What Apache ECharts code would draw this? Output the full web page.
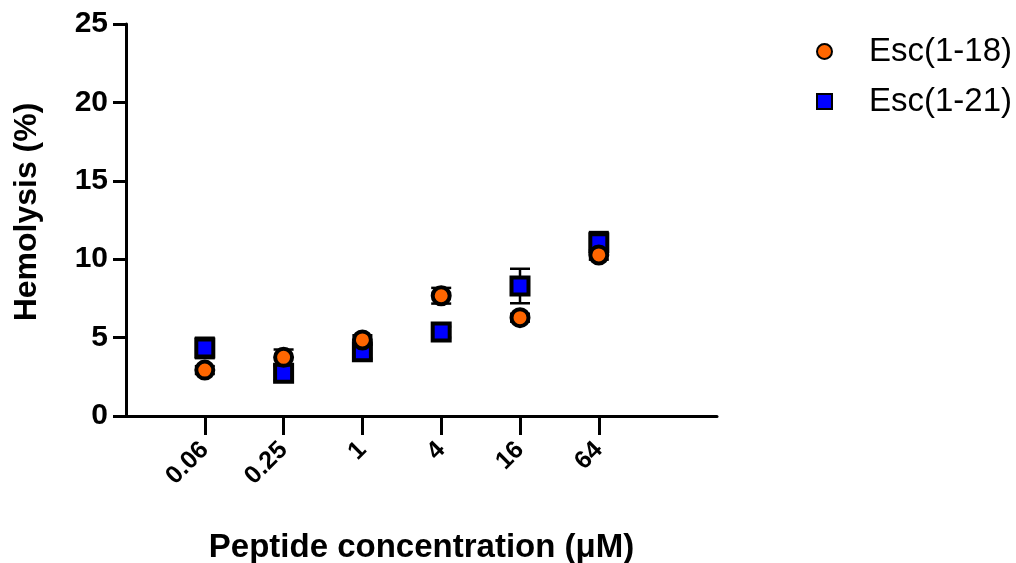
<!DOCTYPE html>
<html><head><meta charset="utf-8">
<script src="https://cdn.jsdelivr.net/npm/echarts@6/dist/echarts.min.js"></script>
<style>html,body{margin:0;padding:0;background:#fff}#c{width:1016px;height:563px}</style>
</head><body><div id="c"></div>
<script>
const categories = ['0.06', '0.25', '1', '4', '16', '64'];
const esc118 = [2.93, 3.74, 4.85, 7.67, 6.27, 10.27];
const esc118Err = [0.25, 0.5, 0.3, 0.5, 0.25, 0.3];
const esc121 = [4.34, 2.72, 4.1, 5.35, 8.29, 11.05];
const esc121Err = [0.65, 0.45, 0.45, 0.35, 1.1, 0.68];
const yTicks = [0, 5, 10, 15, 20, 25];

const pos = categories.map((c, i) => i + 1);
const FONT = 'Liberation Sans, Arial, sans-serif';

function errData(vals, errs) {
  return vals.map((v, i) => [pos[i], v - errs[i], v + errs[i]]);
}
function errRender(params, api) {
  const x = api.value(0);
  const lo = api.coord([x, api.value(1)]);
  const hi = api.coord([x, api.value(2)]);
  const w = 10;
  const st = { stroke: '#000', lineWidth: 2.5 };
  return { type: 'group', children: [
    { type: 'line', shape: { x1: lo[0], y1: lo[1], x2: hi[0], y2: hi[1] }, style: st },
    { type: 'line', shape: { x1: lo[0] - w, y1: lo[1], x2: lo[0] + w, y2: lo[1] }, style: st },
    { type: 'line', shape: { x1: hi[0] - w, y1: hi[1], x2: hi[0] + w, y2: hi[1] }, style: st }
  ]};
}

const chart = echarts.init(document.getElementById('c'), null, { renderer: 'canvas' });
chart.setOption({
  animation: false,
  backgroundColor: '#fff',
  grid: { left: 126, right: 299, top: 24, bottom: 147, containLabel: false, outerBoundsMode: 'none' },
  legend: {
    orient: 'vertical', left: 811, top: 30, itemGap: 17, itemWidth: 15, itemHeight: 15,
    textStyle: { fontFamily: FONT, fontSize: 33, lineHeight: 33, color: '#000', padding: [0, 0, 0, 32] },
    data: ['Esc(1-18)', 'Esc(1-21)']
  },
  xAxis: {
    type: 'value', min: 0, max: 7.5, interval: 1,
    name: 'Peptide concentration (μM)', nameLocation: 'middle', nameGap: 115,
    nameTextStyle: { fontFamily: FONT, fontSize: 33, fontWeight: 'bold', color: '#000' },
    axisLine: { show: true, lineStyle: { color: '#000', width: 3 } },
    axisTick: { show: true, length: 19, lineStyle: { color: '#000', width: 3 }, customValues: pos },
    axisLabel: {
      customValues: pos, rotate: 45, margin: 30,
      fontFamily: FONT, fontSize: 25, fontWeight: 'bold', color: '#000',
      formatter: v => categories[Math.round(v) - 1] || ''
    },
    splitLine: { show: false }
  },
  yAxis: {
    type: 'value', min: 0, max: 25, interval: 5,
    name: 'Hemolysis (%)', nameLocation: 'middle', nameGap: 83, nameRotate: 90,
    nameTextStyle: { fontFamily: FONT, fontSize: 32, fontWeight: 'bold', color: '#000', padding: [0, 0, 0, 16] },
    axisLine: { show: true, lineStyle: { color: '#000', width: 3 } },
    axisTick: { show: true, length: 13, lineStyle: { color: '#000', width: 3 } },
    axisLabel: { margin: 18, fontFamily: FONT, fontSize: 30, fontWeight: 'bold', color: '#000',
      formatter: v => yTicks.includes(v) ? String(v) : '' },
    splitLine: { show: false }
  },
  series: [
    { type: 'custom', name: 'err121', renderItem: errRender, data: errData(esc121, esc121Err), z: 1, silent: true },
    { type: 'custom', name: 'err118', renderItem: errRender, data: errData(esc118, esc118Err), z: 1, silent: true },
    { type: 'scatter', name: 'Esc(1-21)', symbol: 'rect', symbolSize: 17, z: 3,
      itemStyle: { color: '#0000FF', borderColor: '#000', borderWidth: 4, opacity: 1 },
      data: esc121.map((v, i) => [pos[i], v]) },
    { type: 'scatter', name: 'Esc(1-18)', symbol: 'circle', symbolSize: 17, z: 4,
      itemStyle: { color: '#FF6600', borderColor: '#000', borderWidth: 4, opacity: 1 },
      data: esc118.map((v, i) => [pos[i], v]) }
  ]
});
</script></body></html>
